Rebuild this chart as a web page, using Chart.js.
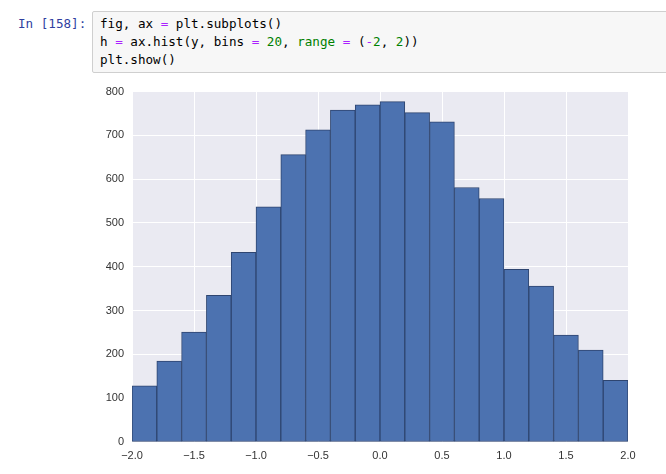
<!DOCTYPE html>
<html>
<head>
<meta charset="utf-8">
<script src="https://cdn.jsdelivr.net/npm/chart.js@4.4.0/dist/chart.umd.min.js"></script>
<style>
  body { margin: 0; background: #fff; width: 666px; height: 474px; overflow: hidden; position: relative; }
  .prompt { position: absolute; left: 18px; top: 15px; font: 12.6px/18px "DejaVu Sans Mono", monospace; color: #303f9f; }
  .cell { position: absolute; left: 92px; top: 11px; width: 600px; height: 60px; background: #f7f7f7; border: 1px solid #cfcfcf; border-radius: 2px; }
  .cell pre { margin: 0; padding: 3px 0 0 7px; font: 12.6px/18px "DejaVu Sans Mono", monospace; color: #000; }
  .o { color: #aa22ff; }
  .n { color: #008000; }
  #wrap { position: absolute; left: 90px; top: 77px; width: 560px; height: 393px; }
</style>
</head>
<body>
<div class="prompt">In [158]:</div>
<div class="cell"><pre>fig, ax <span class="o">=</span> plt.subplots()
h <span class="o">=</span> ax.hist(y, bins <span class="o">=</span> <span class="n">20</span>, <span class="n">range</span> <span class="o">=</span> (<span class="o">-</span><span class="n">2</span>, <span class="n">2</span>))
plt.show()</pre></div>
<div id="wrap"><canvas id="hist"></canvas></div>
<script>
// bins of width 0.2 over (-2, 2)
var binCenters = [-1.9, -1.7, -1.5, -1.3, -1.1, -0.9, -0.7, -0.5, -0.3, -0.1,
                  0.1, 0.3, 0.5, 0.7, 0.9, 1.1, 1.3, 1.5, 1.7, 1.9];
var counts = [128, 185, 251, 335, 433, 537, 656, 713, 758, 770,
              777, 752, 731, 581, 556, 394, 356, 244, 210, 141];
var xTicks = [-2.0, -1.5, -1.0, -0.5, 0.0, 0.5, 1.0, 1.5, 2.0];
var yTicks = [0, 100, 200, 300, 400, 500, 600, 700, 800];

var points = binCenters.map(function(c, i) { return { x: c, y: counts[i] }; });

// gris clair derrière la zone de tracé
var plotBg = {
    id: 'plotBg',
    beforeDraw: function(chart) {
        var a = chart.chartArea;
        chart.ctx.save();
        chart.ctx.fillStyle = '#eaeaf2';
        chart.ctx.fillRect(a.left, a.top, a.right - a.left, a.bottom - a.top);
        chart.ctx.restore();
    }
};

var tickFont = { family: '"Liberation Sans", Arial, sans-serif', size: 11 };

new Chart(document.getElementById('hist').getContext('2d'), {
    type: 'bar',
    data: {
        datasets: [{
            data: points,
            backgroundColor: '#4c72b0',
            borderColor: '#2e4570',
            borderWidth: 1,
            borderSkipped: false,
            barPercentage: 1,
            categoryPercentage: 1
        }]
    },
    options: {
        responsive: true,
        maintainAspectRatio: false,
        animation: false,
        layout: { padding: { top: 8, right: 22, left: 0, bottom: 0 } },
        plugins: { legend: { display: false }, tooltip: { enabled: false } },
        scales: {
            x: {
                type: 'linear',
                min: xTicks[0],
                max: xTicks[xTicks.length - 1],
                offset: false,
                afterFit: function(s) { s.height = 28; },
                afterBuildTicks: function(s) { s.ticks = xTicks.map(function(v) { return { value: v }; }); },
                grid: { color: '#ffffff', lineWidth: 1, drawTicks: false, offset: false },
                border: { display: false },
                ticks: {
                    padding: 7,
                    color: '#333333',
                    font: tickFont,
                    maxRotation: 0,
                    autoSkip: false,
                    callback: function(v) { return Number(v).toFixed(1).replace('-', '\u2212'); }
                }
            },
            y: {
                min: yTicks[0],
                max: yTicks[yTicks.length - 1],
                afterFit: function(s) { s.width = 42; },
                afterBuildTicks: function(s) { s.ticks = yTicks.map(function(v) { return { value: v }; }); },
                grid: { color: '#ffffff', lineWidth: 1, drawTicks: false },
                border: { display: false },
                ticks: { padding: 8, color: '#333333', font: tickFont }
            }
        }
    },
    plugins: [plotBg]
});
</script>
</body>
</html>
